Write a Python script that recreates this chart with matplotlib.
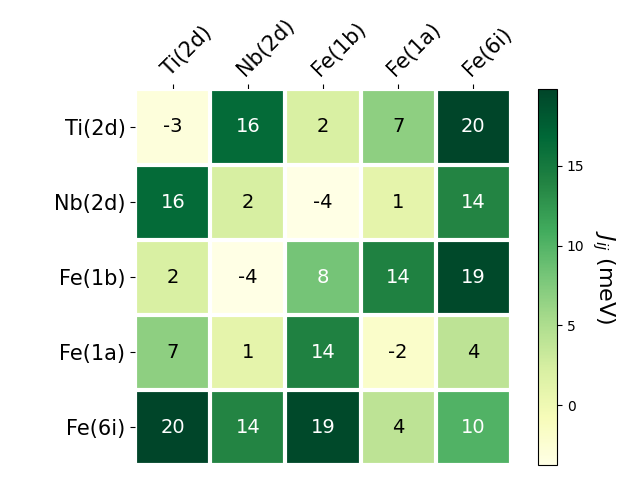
import matplotlib
matplotlib.use("Agg")
import matplotlib.pyplot as plt
import numpy as np

sites = ["Ti(2d)", "Nb(2d)", "Fe(1b)", "Fe(1a)", "Fe(6i)"]

# exchange couplings J_ij in meV (symmetric)
row_ti = [-3.1, 16.4, 2.1, 6.8, 19.8]
row_nb = [16.4, 2.3, -3.75, 1.0, 13.9]
row_fe1b = [2.1, -3.75, 8.2, 14.1, 19.4]
row_fe1a = [6.8, 1.0, 14.1, -2.0, 4.0]
row_fe6i = [19.8, 13.9, 19.4, 4.0, 10.1]

J = np.array([row_ti, row_nb, row_fe1b, row_fe1a, row_fe6i])

fig, ax = plt.subplots(figsize=(6.4, 4.8), dpi=100)
im = ax.imshow(J, cmap="YlGn")

cbar = fig.colorbar(im, ax=ax)
cbar.ax.set_ylabel("$J_{ij}$ (meV)", rotation=-90, va="bottom", fontsize=16)

ax.set_xticks(np.arange(J.shape[1]), labels=sites, fontsize=15)
ax.set_yticks(np.arange(J.shape[0]), labels=sites, fontsize=15)
ax.tick_params(top=True, bottom=False, labeltop=True, labelbottom=False)
plt.setp(ax.get_xticklabels(), rotation=45, ha="left", rotation_mode="anchor")

for s in ax.spines.values():
    s.set_visible(False)
ax.set_xticks(np.arange(J.shape[1] + 1) - .5, minor=True)
ax.set_yticks(np.arange(J.shape[0] + 1) - .5, minor=True)
ax.grid(which="minor", color="w", linestyle="-", linewidth=3)
ax.tick_params(which="minor", bottom=False, left=False)

threshold = im.norm(J.max()) / 2.
for i in range(J.shape[0]):
    for j in range(J.shape[1]):
        c = "white" if im.norm(J[i, j]) > threshold else "black"
        ax.text(j, i, f"{J[i, j]:.0f}", ha="center", va="center", color=c, fontsize=14)

fig.tight_layout()
plt.savefig("out.png")
